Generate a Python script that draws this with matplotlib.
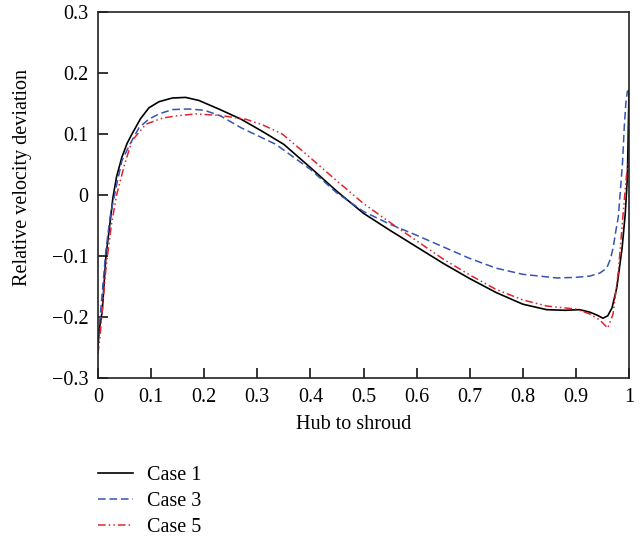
import numpy as np
import matplotlib.pyplot as plt

plt.rcParams['font.family'] = ['Liberation Serif', 'DejaVu Serif']
plt.rcParams['font.size'] = 14.5

# Case 1 (black solid)
x1 = [0, 0.002, 0.008, 0.015, 0.023, 0.028, 0.035, 0.045, 0.055, 0.064, 0.08, 0.096, 0.115,
      0.14, 0.165, 0.19, 0.23, 0.27, 0.31, 0.35, 0.40, 0.45, 0.5, 0.55, 0.6, 0.65, 0.7,
      0.75, 0.8, 0.845, 0.88, 0.907, 0.926, 0.94, 0.951, 0.96, 0.968, 0.977, 0.987,
      0.993, 0.997, 1.0]
y1 = [-0.25, -0.223, -0.19, -0.10, -0.043, -0.005, 0.03, 0.062, 0.085, 0.10, 0.125, 0.143,
      0.153, 0.159, 0.16, 0.155, 0.14, 0.124, 0.104, 0.083, 0.045, 0.006, -0.03, -0.058,
      -0.085, -0.112, -0.137, -0.16, -0.179, -0.188, -0.189, -0.188, -0.192, -0.197,
      -0.202, -0.198, -0.185, -0.152, -0.087, -0.03, 0.03, 0.17]

# Case 3 (blue dashed)
x3 = [0, 0.004, 0.008, 0.015, 0.023, 0.034, 0.045, 0.06, 0.077, 0.095, 0.115, 0.14, 0.17,
      0.2, 0.23, 0.27, 0.335, 0.4, 0.449, 0.5, 0.55, 0.6, 0.65, 0.7, 0.75, 0.8, 0.864,
      0.9, 0.926, 0.945, 0.958, 0.965, 0.97, 0.975, 0.98, 0.984, 0.988, 0.991, 0.994,
      0.997, 1.0]
y3 = [-0.23, -0.2, -0.16, -0.09, -0.035, 0.012, 0.056, 0.083, 0.11, 0.124, 0.133, 0.14,
      0.141, 0.139, 0.13, 0.11, 0.083, 0.042, 0.004, -0.027, -0.048, -0.066, -0.085,
      -0.104, -0.12, -0.13, -0.136, -0.135, -0.133, -0.128, -0.12, -0.105, -0.087,
      -0.06, -0.035, 0.01, 0.056, 0.11, 0.15, 0.17, 0.172]

# Case 5 (red dash-dot-dot)
x5 = [0, 0.004, 0.008, 0.015, 0.025, 0.035, 0.05, 0.064, 0.09, 0.121, 0.15, 0.185, 0.234,
      0.279, 0.31, 0.347, 0.392, 0.45, 0.5, 0.55, 0.6, 0.65, 0.7, 0.75, 0.8, 0.845, 0.9,
      0.926, 0.945, 0.96, 0.97, 0.98, 0.989, 0.995, 1.0]
y5 = [-0.26, -0.23, -0.19, -0.12, -0.05, 0.0, 0.05, 0.089, 0.116, 0.126, 0.13, 0.133,
      0.13, 0.124, 0.115, 0.1, 0.067, 0.023, -0.014, -0.045, -0.075, -0.105, -0.131,
      -0.155, -0.172, -0.182, -0.187, -0.195, -0.205, -0.218, -0.195, -0.125, -0.03,
      0.03, 0.06]

xticks = [0, 0.1, 0.2, 0.3, 0.4, 0.5, 0.6, 0.7, 0.8, 0.9, 1]
xticklabels = ['0', '0.1', '0.2', '0.3', '0.4', '0.5', '0.6', '0.7', '0.8', '0.9', '1']
yticks = [-0.3, -0.2, -0.1, 0, 0.1, 0.2, 0.3]
yticklabels = ['\u22120.3', '\u22120.2', '\u22120.1', '0', '0.1', '0.2', '0.3']

fig = plt.figure(figsize=(6.42, 5.37), dpi=100)
ax = fig.add_axes([98 / 642, 1 - 378 / 537, 531 / 642, 366 / 537])

ax.plot(x1, y1, color='black', lw=1.2, label='Case 1')
ax.plot(x3, y3, color='#3355b5', lw=1.1, dashes=(5, 2.5), label='Case 3')
ax.plot(x5, y5, color='#e3232c', lw=1.1, dashes=(5, 2, 1, 2, 1, 2), label='Case 5')

ax.set_xlim(0, 1)
ax.set_ylim(-0.3, 0.3)
ax.set_xticks(xticks)
ax.set_xticklabels(xticklabels)
ax.set_yticks(yticks)
ax.set_yticklabels(yticklabels)
ax.tick_params(direction='in', length=7, width=1.1, top=False, right=False)
ax.tick_params(axis='x', pad=7)
ax.tick_params(axis='y', pad=7)
for s in ax.spines.values():
    s.set_linewidth(1.2)
    s.set_color('#222222')

ax.set_xlabel('Hub to shroud')
ax.xaxis.set_label_coords(0.481, -0.101)
ax.xaxis.label.set_va('top')
ax.set_ylabel('Relative velocity deviation')
ax.yaxis.set_label_coords(-0.124, 0.549)

fig.legend(loc='upper left', bbox_to_anchor=(98 / 642, 1 - 466 / 537), frameon=False,
           borderpad=0, borderaxespad=0, handlelength=1.75, handletextpad=0.7,
           labelspacing=0.33)

fig.savefig('out.png', dpi=100)
